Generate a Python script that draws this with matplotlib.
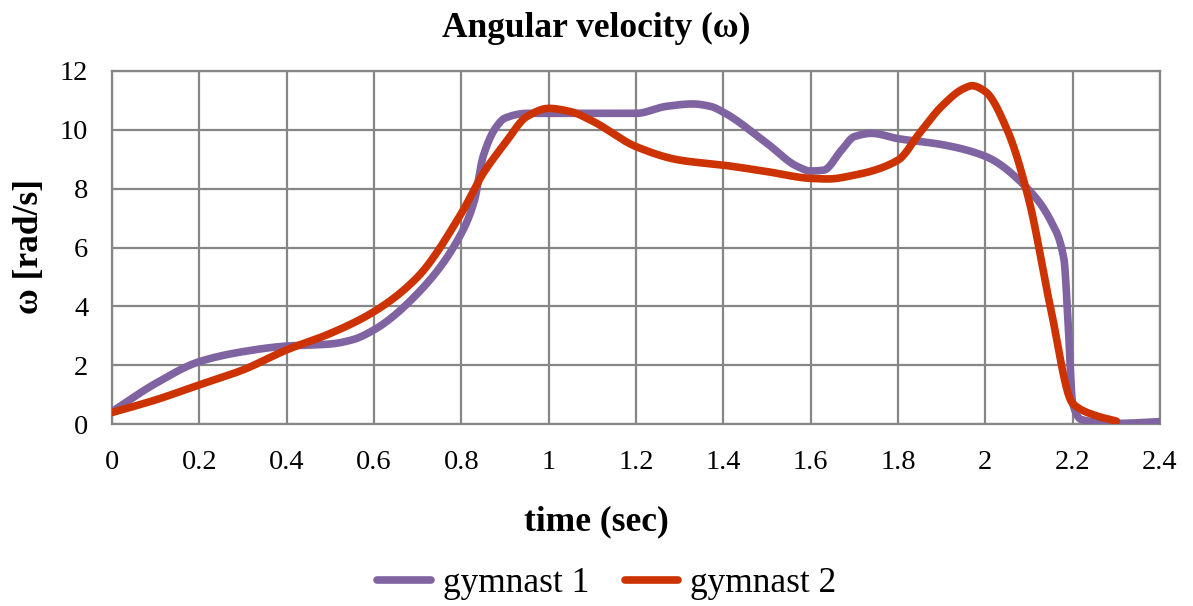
import matplotlib
matplotlib.use("Agg")
import matplotlib.pyplot as plt
import numpy as np

# values
t1 = [0.0, 0.1, 0.2, 0.3, 0.4, 0.5, 0.55, 0.6, 0.7, 0.8, 0.83, 0.85, 0.88, 0.9, 0.95,
      1.0, 1.1, 1.2, 1.27, 1.33, 1.37, 1.4, 1.5, 1.57, 1.6, 1.63, 1.67, 1.7, 1.74, 1.8,
      1.9, 2.0, 2.1, 2.15, 2.18, 2.19, 2.2, 2.22, 2.3, 2.4]
w1 = [0.42, 1.38, 2.12, 2.46, 2.65, 2.72, 2.86, 3.2, 4.44, 6.48, 7.6, 9.1, 10.1, 10.4, 10.56,
      10.56, 10.56, 10.56, 10.8, 10.88, 10.8, 10.6, 9.54, 8.75, 8.6, 8.63, 9.3, 9.77, 9.88, 9.7,
      9.5, 9.1, 7.95, 6.9, 5.6, 3.3, 0.7, 0.15, 0.02, 0.08]

t2 = [0.0, 0.1, 0.2, 0.3, 0.4, 0.5, 0.6, 0.7, 0.8, 0.85, 0.9, 0.95, 1.0, 1.05, 1.1,
      1.2, 1.3, 1.4, 1.5, 1.6, 1.64, 1.7, 1.8, 1.85, 1.9, 1.95, 1.97, 2.0, 2.05, 2.1,
      2.15, 2.2, 2.25, 2.3]
w2 = [0.39, 0.82, 1.33, 1.84, 2.52, 3.08, 3.82, 5.0, 7.16, 8.52, 9.54, 10.45, 10.73, 10.62, 10.3,
      9.43, 8.97, 8.8, 8.58, 8.35, 8.33, 8.46, 8.97, 9.9, 10.8, 11.4, 11.5, 11.3, 10.0, 7.6,
      3.9, 0.7, 0.3, 0.1]

series = ["gymnast 1", "gymnast 2"]
colors = ["#8064A2", "#CC3300"]

xticks = [0, 0.2, 0.4, 0.6, 0.8, 1, 1.2, 1.4, 1.6, 1.8, 2, 2.2, 2.4]
xticklabels = ["0", "0.2", "0.4", "0.6", "0.8", "1", "1.2", "1.4", "1.6", "1.8", "2", "2.2", "2.4"]
yticks = [0, 2, 4, 6, 8, 10, 12]


def smooth(x, y, n=30):
    """Monotone cubic (pchip style) curve through the read points."""
    x = np.asarray(x, float)
    y = np.asarray(y, float)
    h = np.diff(x)
    d = np.diff(y) / h
    m = np.zeros_like(y)
    for k in range(1, len(x) - 1):
        if d[k - 1] * d[k] > 0:
            w1_ = 2 * h[k] + h[k - 1]
            w2_ = h[k] + 2 * h[k - 1]
            m[k] = (w1_ + w2_) / (w1_ / d[k - 1] + w2_ / d[k])
    m[0] = d[0]
    m[-1] = d[-1]
    outX, outY = [], []
    s = np.linspace(0, 1, n, endpoint=False)
    for k in range(len(h)):
        h00 = 2 * s ** 3 - 3 * s ** 2 + 1
        h10 = s ** 3 - 2 * s ** 2 + s
        h01 = -2 * s ** 3 + 3 * s ** 2
        h11 = s ** 3 - s ** 2
        outX.extend(x[k] + s * h[k])
        outY.extend(h00 * y[k] + h10 * h[k] * m[k] + h01 * y[k + 1] + h11 * h[k] * m[k + 1])
    outX.append(x[-1])
    outY.append(y[-1])
    return np.array(outX), np.array(outY)


plt.rcParams['font.family'] = ['Liberation Serif', 'DejaVu Serif']

fig = plt.figure(figsize=(11.93, 6.06), dpi=100)
ax = fig.add_axes([112 / 1193, 1 - 424 / 606, (1160 - 112) / 1193, (424 - 71) / 606])

for (tx, wy), name, col in zip([(t1, w1), (t2, w2)], series, colors):
    sx, sy = smooth(tx, wy)
    ax.plot(sx, sy, color=col, linewidth=5.5, solid_capstyle='round', label=name, zorder=3)

ax.set_xlim(0, 2.4)
ax.set_ylim(0, 12)
ax.set_xticks(xticks)
ax.set_xticklabels(xticklabels)
ax.set_yticks(yticks)
ax.tick_params(axis='both', length=0, labelsize=20.5)
ax.tick_params(axis='x', pad=19)
ax.tick_params(axis='y', pad=17)
ax.grid(True, color='#868686', linewidth=1.6)
ax.set_axisbelow(True)
for sp in ax.spines.values():
    sp.set_color('#868686')
    sp.set_linewidth(1.6)

fig.text(0.5, 1 - 28 / 606, "Angular velocity (ω)", ha='center', va='center',
         fontsize=25.5, fontweight='bold')
fig.text(0.5, 1 - 522 / 606, "time (sec)", ha='center', va='center',
         fontsize=25.5, fontweight='bold')
fig.text(30 / 1193, 1 - 247 / 606, "ω [rad/s]", ha='center', va='center',
         rotation=90, fontsize=25.5, fontweight='bold')

fig.legend(loc='center', bbox_to_anchor=(607 / 1193, 1 - 584 / 606), ncol=2, frameon=False,
           fontsize=25.5, handlelength=1.5, columnspacing=1.0, handletextpad=0.35)

fig.savefig("out.png", dpi=100)
